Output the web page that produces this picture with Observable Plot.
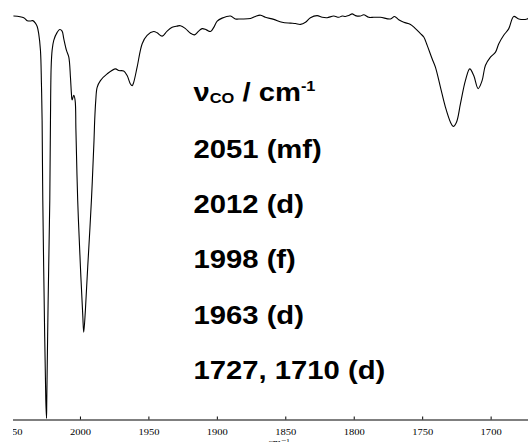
<!DOCTYPE html>
<html>
<head>
<meta charset="utf-8">
<script src="https://cdn.jsdelivr.net/npm/d3@7"></script>
<script src="https://cdn.jsdelivr.net/npm/@observablehq/plot@0.6"></script>
<style>
  html, body { margin: 0; padding: 0; background: #fff; }
</style>
</head>
<body>
<div id="chart"></div>
<script>
// IR spectrum (carbonyl region), wavenumber in cm-1 and transmittance (%)
const wavenumber = [
  2048.7, 2041.4, 2038.9, 2036.5, 2034.8, 2032.9, 2031.6, 2030.5, 2029.2, 2028.5,
  2028.0, 2027.5, 2026.5, 2025.3, 2024.8, 2024.6, 2023.6, 2022.4, 2021.9, 2021.4,
  2020.7, 2019.5, 2017.0, 2015.1, 2013.4, 2012.2, 2010.2, 2008.5, 2007.3, 2006.6,
  2006.1, 2004.9, 2003.9, 2003.3, 2002.0, 2000.0, 1998.3, 1997.6, 1996.4, 1994.7,
  1992.0, 1990.1, 1989.6, 1988.8, 1987.8, 1985.4, 1980.5, 1974.4, 1972.0, 1968.4,
  1965.9, 1963.5, 1962.2, 1961.1, 1958.6, 1954.9, 1951.3, 1946.5, 1944.0, 1940.3,
  1936.7, 1933.0, 1929.4, 1927.0, 1923.3, 1919.6, 1916.7, 1913.6, 1911.1, 1908.0,
  1905.0, 1902.6, 1900.1, 1896.5, 1890.4, 1886.8, 1883.1, 1875.8, 1872.2, 1868.5,
  1864.9, 1858.8, 1852.7, 1846.6, 1842.9, 1839.3, 1835.6, 1832.0, 1827.1, 1823.4,
  1819.8, 1815.0, 1811.3, 1808.8, 1806.4, 1804.0, 1801.5, 1799.1, 1795.5, 1793.1,
  1789.4, 1785.7, 1780.9, 1773.5, 1770.6, 1767.5, 1763.8, 1758.9, 1755.3, 1751.6,
  1749.2, 1746.7, 1743.1, 1740.7, 1737.0, 1733.4, 1729.7, 1727.7, 1725.3, 1722.4,
  1718.8, 1715.6, 1712.7, 1709.5, 1706.6, 1704.2, 1700.5, 1696.8, 1694.4, 1690.8,
  1687.1, 1683.5, 1679.8, 1673.7, 1672.7
];
const transmittance = [
  96.3, 95.9, 95.2, 95.1, 95.2, 94.6, 93.8, 92.1, 88.1, 80.2,
  71.4, 52.3, 28.5, 4.7, 0.4, 4.7, 28.5, 52.3, 71.4, 84.1,
  88.1, 90.5, 92.4, 93.1, 92.7, 90.9, 88.1, 86.5, 81.7, 77.8,
  76.3, 77.4, 76.2, 69.0, 52.3, 36.4, 24.9, 20.9, 26.1, 36.4,
  52.3, 66.6, 71.4, 76.2, 79.3, 80.9, 82.5, 83.7, 83.3, 83.2,
  82.1, 80.1, 79.7, 80.5, 84.1, 89.7, 91.7, 92.6, 92.3, 91.5,
  92.7, 93.6, 93.9, 94.0, 93.3, 92.2, 91.8, 92.7, 93.3, 93.0,
  92.6, 93.6, 95.1, 95.8, 96.3, 95.6, 95.6, 95.7, 96.2, 96.5,
  96.0, 95.5, 94.8, 94.6, 94.5, 94.3, 94.8, 95.9, 96.4, 96.0,
  95.9, 96.3, 96.0, 96.3, 96.2, 96.4, 96.8, 96.4, 96.3, 96.6,
  96.0, 96.0, 96.0, 95.6, 96.2, 95.4, 94.8, 94.3, 93.3, 92.1,
  91.3, 89.3, 86.1, 84.1, 79.3, 74.6, 71.0, 70.0, 71.0, 75.4,
  80.9, 83.7, 82.1, 79.0, 80.9, 84.5, 86.5, 87.7, 89.7, 91.7,
  93.3, 96.2, 95.6, 95.6, 95.8
];
const xTicks = [2050, 2000, 1950, 1900, 1850, 1800, 1750, 1700];
const headerParts = ["ν", "CO", " / cm", "-1"];
const bandLines = ["2051 (mf)", "2012 (d)", "1998 (f)", "1963 (d)", "1727, 1710 (d)"];
const axisLabel = ["cm⁻¹"];
const axisLabelAt = [1855];

const spectrum = wavenumber.map((wn, i) => ({wn, t: transmittance[i]}));

const stretch = 1.17; // the reference's text is horizontally stretched

const svg = Plot.plot({
  width: 528,
  height: 442,
  marginLeft: 0,
  marginRight: 0,
  marginTop: 0,
  marginBottom: 22.5,
  style: {
    background: "#fff",
    fontFamily: "'Liberation Serif', 'DejaVu Serif', serif",
    fontSize: "9px",
    color: "#000",
    clipPath: "inset(0 0 0 13px)",
    overflow: "hidden"
  },
  x: {domain: [2058.4, 1672.7]},
  y: {domain: [0, 100], axis: null},
  marks: [
    Plot.ruleY([0], {stroke: "#000", strokeWidth: 1.2}),
    Plot.axisX({ticks: xTicks, tickSize: -3, tickPadding: 12, tickFormat: d => String(d), label: null, fill: "#000", stroke: "#000"}),
    Plot.line(spectrum, {x: "wn", y: "t", stroke: "#000", strokeWidth: 1.1, curve: "catmull-rom"}),
    Plot.text(axisLabel, {x: axisLabelAt, frameAnchor: "bottom", dy: 25, fontSize: 9, fill: "#111", lineAnchor: "bottom"}),
    Plot.text([headerParts[0]], {
      frameAnchor: "top-left", dx: 193, dy: 82.5, lineAnchor: "top", textAnchor: "start",
      fontSize: 25, fontWeight: "bold", fontFamily: "'Liberation Sans', Arial, sans-serif", fill: "#000",
      className: "hdr"
    }),
    Plot.text([bandLines.join("\n")], {
      frameAnchor: "top-left", dx: 193, dy: 117.7, lineAnchor: "top", textAnchor: "start",
      lineHeight: 2.216,
      fontSize: 25, fontWeight: "bold", fontFamily: "'Liberation Sans', Arial, sans-serif", fill: "#000"
    })
  ]
});

// rich header: ν with subscript CO, " / cm", superscript -1
const hdr = svg.querySelector("g.hdr text");
if (hdr) {
  const NS = "http://www.w3.org/2000/svg";
  const sub = document.createElementNS(NS, "tspan");
  sub.setAttribute("font-size", "14");
  sub.setAttribute("dy", "2.5");
  sub.textContent = headerParts[1];
  const mid = document.createElementNS(NS, "tspan");
  mid.setAttribute("dy", "-2.5");
  mid.setAttribute("font-size", "25");
  mid.textContent = headerParts[2];
  mid.setAttribute("style", "white-space: pre");
  const sup = document.createElementNS(NS, "tspan");
  sup.setAttribute("font-size", "14");
  sup.setAttribute("dy", "-9.5");
  sup.textContent = headerParts[3];
  hdr.appendChild(sub);
  hdr.appendChild(mid);
  hdr.appendChild(sup);
  hdr.setAttribute("xml:space", "preserve");
}

// horizontal stretch of all text, as in the reference
svg.querySelectorAll("text").forEach(t => {
  const tr = t.getAttribute("transform") || "";
  t.setAttribute("transform", (tr + ` scale(${stretch},1)`).trim());
});

document.getElementById("chart").appendChild(svg);
</script>
</body>
</html>
